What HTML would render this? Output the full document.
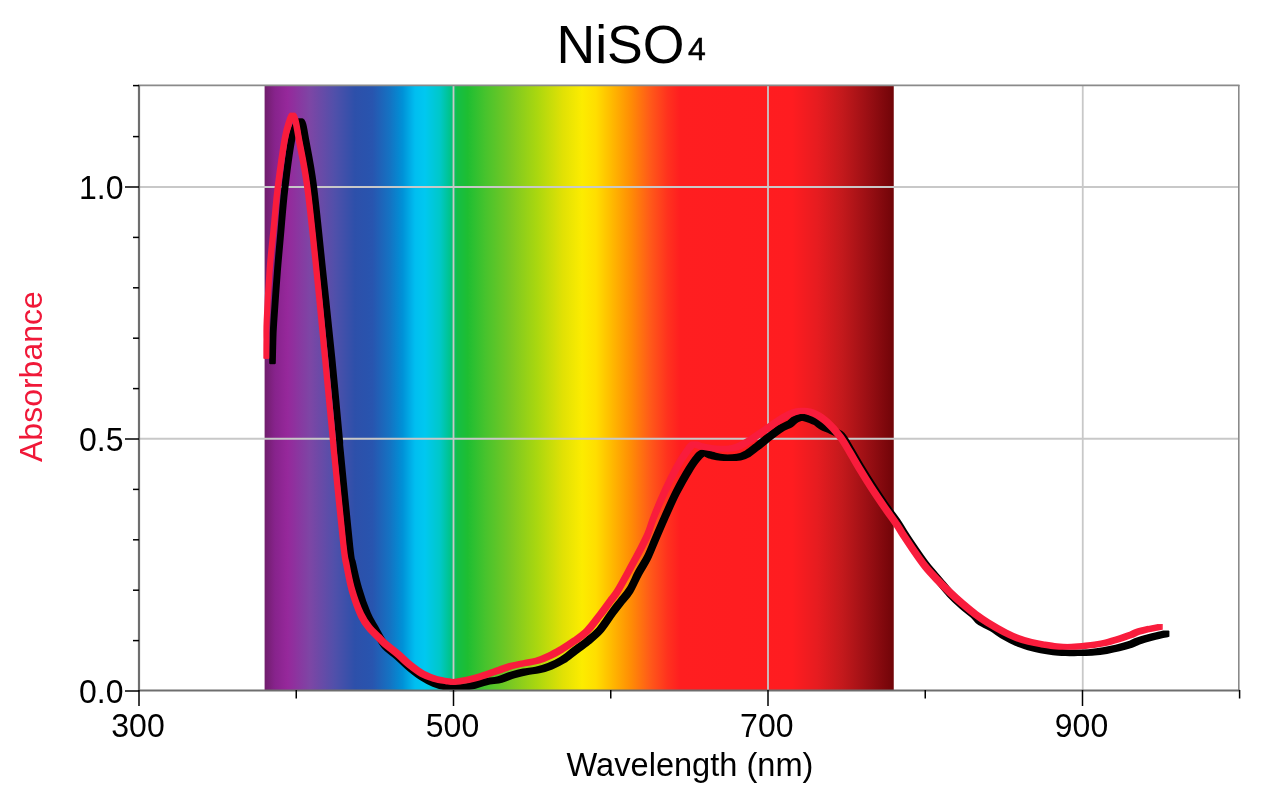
<!DOCTYPE html>
<html lang="en">
<head>
<meta charset="utf-8">
<title>NiSO4 absorbance spectrum</title>
<style>
html,body{margin:0;padding:0;background:#fff;}
body{width:1280px;height:793px;overflow:hidden;}
svg{display:block;}
text{font-family:"Liberation Sans",Arial,Helvetica,sans-serif;fill:#000;}
</style>
</head>
<body>
<svg width="1280" height="793" viewBox="0 0 1280 793">
<defs>
<linearGradient id="spec" gradientUnits="userSpaceOnUse" x1="264.6" y1="0" x2="893.75" y2="0"><stop offset="0.0000" stop-color="rgb(112,30,108)"/><stop offset="0.0165" stop-color="rgb(135,35,140)"/><stop offset="0.0364" stop-color="rgb(150,40,155)"/><stop offset="0.0722" stop-color="rgb(125,70,165)"/><stop offset="0.1119" stop-color="rgb(80,80,170)"/><stop offset="0.1437" stop-color="rgb(45,80,170)"/><stop offset="0.1715" stop-color="rgb(40,85,175)"/><stop offset="0.1993" stop-color="rgb(20,115,195)"/><stop offset="0.2192" stop-color="rgb(0,145,215)"/><stop offset="0.2391" stop-color="rgb(0,190,240)"/><stop offset="0.2549" stop-color="rgb(0,200,240)"/><stop offset="0.2788" stop-color="rgb(0,200,200)"/><stop offset="0.2947" stop-color="rgb(0,195,140)"/><stop offset="0.3066" stop-color="rgb(20,190,70)"/><stop offset="0.3225" stop-color="rgb(30,190,50)"/><stop offset="0.3503" stop-color="rgb(70,195,45)"/><stop offset="0.3901" stop-color="rgb(120,200,35)"/><stop offset="0.4330" stop-color="rgb(170,215,15)"/><stop offset="0.4743" stop-color="rgb(225,225,5)"/><stop offset="0.5045" stop-color="rgb(252,236,0)"/><stop offset="0.5267" stop-color="rgb(255,222,0)"/><stop offset="0.5522" stop-color="rgb(255,185,0)"/><stop offset="0.5824" stop-color="rgb(255,140,5)"/><stop offset="0.6126" stop-color="rgb(255,90,25)"/><stop offset="0.6404" stop-color="rgb(255,50,30)"/><stop offset="0.6603" stop-color="rgb(255,30,32)"/><stop offset="0.8383" stop-color="rgb(255,28,32)"/><stop offset="0.8788" stop-color="rgb(230,28,32)"/><stop offset="0.9185" stop-color="rgb(195,25,28)"/><stop offset="0.9583" stop-color="rgb(155,15,20)"/><stop offset="1.0000" stop-color="rgb(112,4,8)"/></linearGradient>
<filter id="sq" filterUnits="userSpaceOnUse" x="0" y="0" width="1280" height="793" color-interpolation-filters="sRGB"><feMorphology operator="dilate" radius="2"/></filter>
</defs>
<rect x="0" y="0" width="1280" height="793" fill="#ffffff"/>
<rect x="264.6" y="85" width="629.15" height="605" fill="url(#spec)"/>
<g stroke="#c8c8c8" stroke-width="1.8" fill="none">
<line x1="139" x2="1239" y1="187" y2="187"/>
<line x1="139" x2="1239" y1="438.75" y2="438.75"/>
<line x1="453.5" x2="453.5" y1="85" y2="690"/>
<line x1="768" x2="768" y1="85" y2="690"/>
<line x1="1082.75" x2="1082.75" y1="85" y2="690"/>
</g>
<g fill="none" stroke-linejoin="round" stroke-linecap="round">
<path filter="url(#sq)" d="M272.5 361.0 C272.6 357.5 272.8 346.5 273.0 340.0 C273.2 333.5 273.0 333.7 273.8 322.0 C274.5 310.3 276.3 285.3 277.5 270.0 C278.7 254.7 279.8 243.8 281.0 230.0 C282.2 216.2 283.2 202.0 285.0 187.0 C286.8 172.0 289.6 150.3 291.5 140.0 C293.4 129.7 295.1 128.1 296.5 125.0 C297.9 121.9 298.9 121.3 300.0 121.5 C301.1 121.7 302.1 122.9 303.0 126.0 C303.9 129.1 303.8 129.8 305.6 140.0 C307.4 150.2 310.7 164.5 313.6 187.0 C316.5 209.5 320.0 245.8 323.1 275.0 C326.2 304.2 329.5 334.7 332.2 362.0 C334.9 389.3 338.0 423.8 339.4 438.8 C340.8 453.8 338.6 433.7 340.4 452.0 C342.2 470.3 347.9 529.9 350.0 548.8 C352.1 567.6 351.3 558.1 352.8 565.0 C354.2 571.9 356.3 581.7 358.8 590.0 C361.2 598.3 364.8 608.5 367.5 615.0 C370.2 621.5 372.1 623.7 375.0 628.8 C377.9 633.8 381.2 641.0 385.0 645.5 C388.8 650.0 393.3 652.3 397.5 656.0 C401.7 659.7 405.8 664.0 410.0 667.5 C414.2 671.0 418.3 674.3 422.5 677.0 C426.7 679.7 430.8 681.8 435.0 683.5 C439.2 685.2 444.2 686.5 447.5 687.2 C450.8 687.9 451.2 688.0 455.0 687.8 C458.8 687.6 465.0 687.2 470.0 686.2 C475.0 685.2 480.0 683.1 485.0 682.0 C490.0 680.9 495.4 680.6 500.0 679.4 C504.6 678.2 508.3 676.2 512.5 675.0 C516.7 673.8 520.8 672.7 525.0 671.9 C529.2 671.1 533.3 670.9 537.5 670.0 C541.7 669.1 545.8 667.9 550.0 666.2 C554.2 664.6 558.3 662.6 562.5 660.0 C566.7 657.4 570.8 653.7 575.0 650.6 C579.2 647.5 583.3 644.7 587.5 641.2 C591.7 637.8 595.8 634.8 600.0 630.0 C604.2 625.2 609.0 617.3 612.5 612.5 C616.0 607.7 618.3 605.0 621.2 601.2 C624.2 597.5 627.1 594.8 630.0 590.0 C632.9 585.2 635.8 577.9 638.8 572.5 C641.7 567.1 644.8 562.9 647.5 557.5 C650.2 552.1 652.5 545.8 655.0 540.0 C657.5 534.2 660.4 527.3 662.5 522.5 C664.6 517.7 665.2 516.2 667.5 511.2 C669.8 506.2 672.7 499.4 676.2 492.5 C679.8 485.6 685.2 475.8 688.8 470.0 C692.3 464.2 695.0 460.4 697.5 457.5 C700.0 454.6 701.2 453.1 703.8 452.8 C706.2 452.4 709.4 454.8 712.5 455.6 C715.6 456.4 718.1 457.2 722.5 457.5 C726.9 457.8 734.6 457.7 738.8 457.1 C742.9 456.5 744.4 455.6 747.5 453.8 C750.6 451.9 753.8 449.2 757.5 446.2 C761.2 443.3 766.2 439.2 770.0 436.2 C773.8 433.3 776.7 430.8 780.0 428.8 C783.3 426.7 787.3 425.4 790.0 423.8 C792.7 422.1 794.0 419.8 796.2 418.8 C798.5 417.7 800.6 417.1 803.8 417.5 C806.9 417.9 811.8 419.8 815.0 421.2 C818.2 422.8 820.2 425.0 823.0 426.5 C825.8 428.0 828.9 428.9 832.0 430.5 C835.1 432.1 838.2 432.4 841.5 436.0 C844.8 439.6 848.2 446.5 851.5 452.0 C854.8 457.5 858.0 463.2 861.5 469.0 C865.0 474.8 868.8 480.9 872.8 487.0 C876.7 493.1 881.1 499.7 885.2 505.8 C889.4 511.8 894.6 518.7 897.8 523.2 C900.9 527.8 901.3 529.1 904.0 533.2 C906.7 537.4 910.2 542.8 914.0 548.2 C917.8 553.7 922.3 560.4 926.5 565.8 C930.7 571.1 935.1 575.9 939.0 580.5 C942.9 585.1 946.1 589.3 950.0 593.5 C953.9 597.7 958.3 601.8 962.5 605.5 C966.7 609.2 972.1 613.4 975.0 616.0 C977.9 618.6 977.1 619.2 980.0 621.2 C982.9 623.2 988.3 625.5 992.5 628.0 C996.7 630.5 1000.8 633.8 1005.0 636.2 C1009.2 638.7 1013.3 640.7 1017.5 642.5 C1021.7 644.3 1025.8 645.6 1030.0 646.9 C1034.2 648.1 1038.3 649.2 1042.5 650.0 C1046.7 650.8 1050.8 651.4 1055.0 651.9 C1059.2 652.4 1063.3 652.6 1067.5 652.8 C1071.7 652.9 1075.8 652.8 1080.0 652.8 C1084.2 652.7 1088.3 652.6 1092.5 652.2 C1096.7 651.9 1100.8 651.3 1105.0 650.6 C1109.2 649.9 1113.3 649.1 1117.5 648.1 C1121.7 647.1 1126.7 645.7 1130.0 644.6 C1133.3 643.5 1134.2 642.4 1137.5 641.2 C1140.8 640.1 1145.8 638.6 1150.0 637.5 C1154.2 636.4 1159.8 635.0 1162.5 634.4 C1165.2 633.8 1165.6 633.9 1166.2 633.8" stroke="#000000" stroke-width="2.6"/>
<path filter="url(#sq)" d="M266.3 356.0 C266.3 353.3 266.3 345.7 266.4 340.0 C266.4 334.3 266.1 333.7 266.6 322.0 C267.1 310.3 268.5 285.3 269.6 270.0 C270.8 254.7 272.1 243.8 273.5 230.0 C274.9 216.2 275.9 202.0 277.8 187.0 C279.7 172.0 282.7 150.8 284.6 140.0 C286.5 129.2 288.0 126.1 289.3 122.0 C290.6 117.9 291.4 115.5 292.5 115.5 C293.6 115.5 294.6 117.9 295.7 122.0 C296.8 126.1 297.1 129.2 299.0 140.0 C300.9 150.8 304.3 164.5 307.3 187.0 C310.3 209.5 313.9 245.8 316.9 275.0 C319.9 304.2 322.8 334.7 325.4 362.0 C328.0 389.3 331.3 423.8 332.8 438.8 C334.2 453.8 332.2 434.3 334.0 452.0 C335.8 469.7 341.3 526.2 343.4 545.0 C345.5 563.8 345.1 557.5 346.5 565.0 C347.9 572.5 349.5 581.7 351.9 590.0 C354.3 598.3 358.1 608.8 361.0 615.0 C363.9 621.2 366.0 623.8 369.0 627.5 C372.0 631.2 376.1 634.8 378.8 637.5 C381.4 640.2 381.9 641.0 385.0 643.8 C388.1 646.5 393.3 650.2 397.5 653.8 C401.7 657.3 405.8 661.7 410.0 665.0 C414.2 668.3 418.3 671.5 422.5 673.8 C426.7 676.0 430.8 677.5 435.0 678.8 C439.2 680.0 444.2 680.7 447.5 681.2 C450.8 681.8 450.8 682.3 455.0 681.9 C459.2 681.5 467.5 679.9 472.5 678.8 C477.5 677.6 480.8 676.4 485.0 675.0 C489.2 673.6 493.7 672.0 498.0 670.5 C502.3 669.0 506.5 667.2 511.0 666.0 C515.5 664.8 520.6 664.0 525.0 663.1 C529.4 662.2 533.3 661.9 537.5 660.6 C541.7 659.4 545.8 657.6 550.0 655.6 C554.2 653.6 558.3 651.2 562.5 648.8 C566.7 646.2 570.8 643.6 575.0 640.6 C579.2 637.6 583.3 634.9 587.5 630.6 C591.7 626.3 596.2 619.9 600.0 615.0 C603.8 610.1 607.1 605.5 610.0 601.5 C612.9 597.5 614.2 596.7 617.5 591.2 C620.8 585.8 626.5 575.2 630.0 568.8 C633.5 562.3 635.8 558.1 638.8 552.5 C641.7 546.9 645.0 540.8 647.5 535.0 C650.0 529.2 650.6 525.3 653.5 518.0 C656.4 510.7 661.1 499.5 665.0 491.0 C668.9 482.5 673.5 473.4 677.0 467.0 C680.5 460.6 683.3 456.2 686.0 452.5 C688.7 448.8 690.3 445.5 693.0 444.5 C695.7 443.5 698.4 445.8 702.0 446.5 C705.6 447.2 709.7 448.2 714.5 448.5 C719.3 448.8 726.6 448.9 730.8 448.5 C734.9 448.1 736.4 447.3 739.5 446.0 C742.6 444.7 745.2 443.2 749.5 440.5 C753.8 437.8 760.3 433.2 765.0 430.0 C769.7 426.8 773.3 424.0 777.5 421.2 C781.7 418.5 785.8 415.5 790.0 413.8 C794.2 412.0 798.3 410.6 802.5 410.6 C806.7 410.6 810.8 411.8 815.0 413.8 C819.2 415.7 823.3 418.7 827.5 422.5 C831.7 426.3 836.2 431.5 840.0 436.5 C843.8 441.5 846.7 447.0 850.0 452.5 C853.3 458.0 856.5 463.7 860.0 469.5 C863.5 475.3 867.3 481.4 871.2 487.5 C875.2 493.6 879.6 500.2 883.8 506.2 C887.9 512.3 893.1 519.2 896.2 523.8 C899.4 528.3 899.8 529.6 902.5 533.8 C905.2 537.9 908.8 543.3 912.5 548.8 C916.2 554.2 920.8 561.0 925.0 566.2 C929.2 571.5 933.3 575.6 937.5 580.0 C941.7 584.4 945.8 588.5 950.0 592.5 C954.2 596.5 958.3 600.2 962.5 603.8 C966.7 607.3 970.8 610.9 975.0 614.0 C979.2 617.1 982.5 619.4 987.5 622.5 C992.5 625.6 1000.0 629.9 1005.0 632.5 C1010.0 635.1 1013.3 636.5 1017.5 638.1 C1021.7 639.7 1025.8 640.9 1030.0 641.9 C1034.2 642.9 1038.3 643.7 1042.5 644.4 C1046.7 645.1 1050.8 645.8 1055.0 646.2 C1059.2 646.7 1063.3 646.9 1067.5 646.9 C1071.7 646.9 1075.8 646.6 1080.0 646.2 C1084.2 645.9 1088.3 645.6 1092.5 645.0 C1096.7 644.4 1100.8 643.8 1105.0 642.9 C1109.2 642.0 1113.3 640.7 1117.5 639.4 C1121.7 638.1 1126.7 636.5 1130.0 635.2 C1133.3 634.0 1134.2 633.0 1137.5 631.9 C1140.8 630.8 1146.2 629.6 1150.0 628.8 C1153.8 627.9 1158.3 627.2 1160.0 626.9" stroke="#f91c3c" stroke-width="1.9"/>
</g>
<g stroke="#8a8a8a" stroke-width="1.6" fill="none">
<line x1="138" x2="1239.5" y1="85.4" y2="85.4"/>
<line x1="1238.8" x2="1238.8" y1="85" y2="691"/>
</g>
<g stroke="#6e6e6e" stroke-width="2.2" fill="none">
<line x1="139" x2="139" y1="85" y2="691.2"/>
<line x1="138" x2="1239.5" y1="690.5" y2="690.5"/>
</g>
<g stroke="#000" stroke-width="1.5" fill="none"><line x1="125" x2="139" y1="691.00" y2="691.00"/><line x1="133" x2="139" y1="640.60" y2="640.60"/><line x1="133" x2="139" y1="590.20" y2="590.20"/><line x1="133" x2="139" y1="539.80" y2="539.80"/><line x1="133" x2="139" y1="489.40" y2="489.40"/><line x1="125" x2="139" y1="439.00" y2="439.00"/><line x1="133" x2="139" y1="388.60" y2="388.60"/><line x1="133" x2="139" y1="338.20" y2="338.20"/><line x1="133" x2="139" y1="287.80" y2="287.80"/><line x1="133" x2="139" y1="237.40" y2="237.40"/><line x1="125" x2="139" y1="187.00" y2="187.00"/><line x1="133" x2="139" y1="136.60" y2="136.60"/><line x1="133" x2="139" y1="85.60" y2="85.60"/><line x1="139.00" x2="139.00" y1="690" y2="706"/><line x1="296.25" x2="296.25" y1="690" y2="698.5"/><line x1="453.50" x2="453.50" y1="690" y2="706"/><line x1="610.75" x2="610.75" y1="690" y2="698.5"/><line x1="768.00" x2="768.00" y1="690" y2="706"/><line x1="925.25" x2="925.25" y1="690" y2="698.5"/><line x1="1082.50" x2="1082.50" y1="690" y2="706"/><line x1="1239.60" x2="1239.60" y1="690" y2="698.5"/></g>
<text x="556.5" y="63" font-size="53.6">NiSO<tspan font-size="32" dx="3.5" dy="-3" stroke="#000" stroke-width="0.5">4</tspan></text>
<g font-size="32" text-anchor="end">
<text transform="translate(123.5 199.2) scale(1 1.05)">1.0</text>
<text transform="translate(123.5 451.2) scale(1 1.05)">0.5</text>
<text transform="translate(123.5 703.2) scale(1 1.05)">0.0</text>
</g>
<g font-size="32" text-anchor="middle">
<text transform="translate(138 737) scale(1 1.05)">300</text>
<text transform="translate(452.5 737) scale(1 1.05)">500</text>
<text transform="translate(766.8 737) scale(1 1.05)">700</text>
<text transform="translate(1081.5 737) scale(1 1.05)">900</text>
</g>
<text transform="translate(690 776) scale(1 1.03)" font-size="32.6" text-anchor="middle">Wavelength (nm)</text>
<text transform="translate(42.4 376.6) rotate(-90)" font-size="32" text-anchor="middle" style="fill:#f01838">Absorbance</text>
</svg>
</body>
</html>
